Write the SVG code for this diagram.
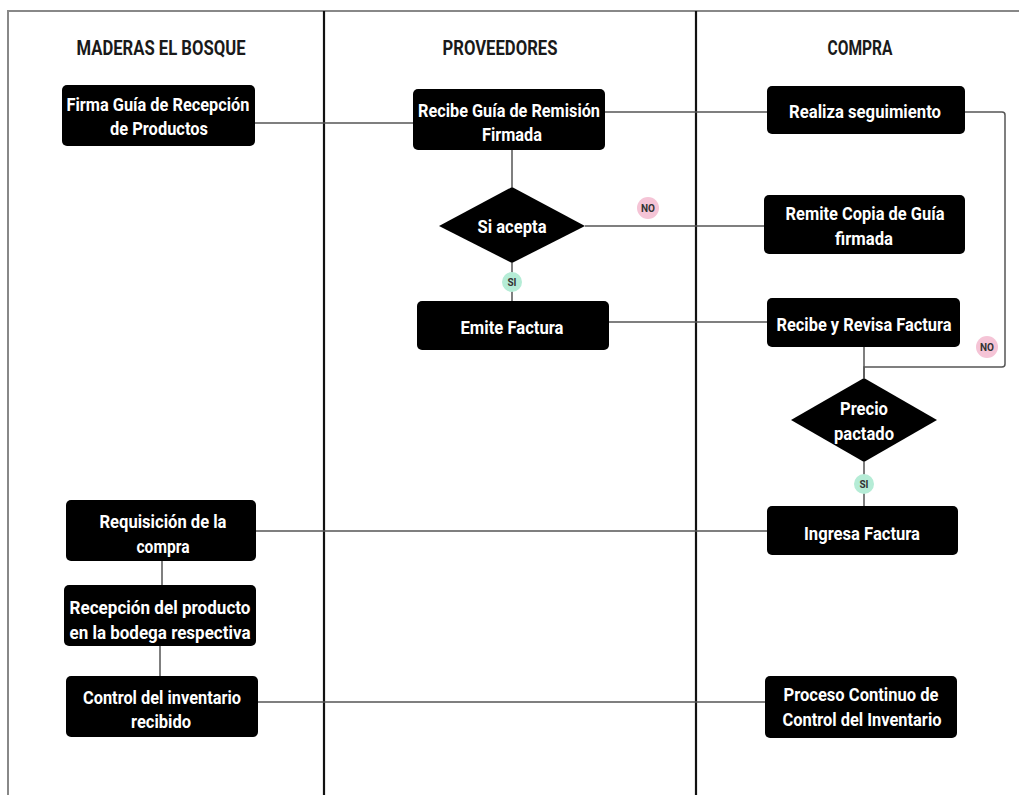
<svg xmlns="http://www.w3.org/2000/svg" width="1019" height="795" viewBox="0 0 1019 795">
<style>
.box{fill:#000;}
.t{font-family:Roboto,"Liberation Sans",sans-serif;font-weight:bold;font-size:19px;fill:#fff;text-anchor:middle;}
.h{font-family:Roboto,"Liberation Sans",sans-serif;font-weight:bold;font-size:21px;fill:#1a1a1a;text-anchor:middle;}
.c{fill:none;stroke:#555;stroke-width:1.5;}
.lane{stroke:#111;stroke-width:2.2;}
.frame{stroke:#888;stroke-width:2;fill:none;}
.no{fill:#f5c4d6;}
.si{fill:#b5ecd6;}
.lbl{font-family:Roboto,"Liberation Sans",sans-serif;font-weight:bold;font-size:10px;fill:#333;text-anchor:middle;}
</style>
<rect x="0" y="0" width="1019" height="795" fill="#fff"/>
<g id="lanes">
<path class="frame" d="M8,795 V11 H1019"/>
<line class="lane" x1="324" y1="11" x2="324" y2="795"/>
<line class="lane" x1="696" y1="11" x2="696" y2="795"/>
<text class="h" x="161" y="55" textLength="169" lengthAdjust="spacingAndGlyphs">MADERAS EL BOSQUE</text>
<text class="h" x="500" y="55" textLength="115" lengthAdjust="spacingAndGlyphs">PROVEEDORES</text>
<text class="h" x="860" y="55" textLength="65" lengthAdjust="spacingAndGlyphs">COMPRA</text>
</g>
<g id="connectors">
<path class="c" d="M255,123 H413"/>
<path class="c" d="M605,112 H767"/>
<path class="c" d="M512,150 V187"/>
<path class="c" d="M585,226 H764"/>
<path class="c" d="M512,263 V301"/>
<path class="c" d="M609,322 H767"/>
<path class="c" d="M965,112 H1002 Q1005,112 1005,115 V364 Q1005,367 1002,367 H864 V378"/>
<path class="c" d="M864,347 V378"/>
<path class="c" d="M864,462 V506"/>
<path class="c" d="M256,531 H767"/>
<path class="c" d="M162,561 V585"/>
<path class="c" d="M160,646 V676"/>
<path class="c" d="M258,702 H765"/>
<circle class="no" cx="648" cy="208" r="11"/>
<text class="lbl" x="648" y="212">NO</text>
<circle class="si" cx="512" cy="282" r="10"/>
<text class="lbl" x="512" y="286">SI</text>
<circle class="no" cx="987" cy="347" r="11"/>
<text class="lbl" x="987" y="351">NO</text>
<circle class="si" cx="864" cy="484" r="10"/>
<text class="lbl" x="864" y="488">SI</text>
</g>
<g id="n1">
<rect class="box" x="62" y="85" width="193" height="61" rx="5"/>
<text class="t" x="158" y="111" textLength="183" lengthAdjust="spacingAndGlyphs">Firma Guía de Recepción</text>
<text class="t" x="159" y="135" textLength="98" lengthAdjust="spacingAndGlyphs">de Productos</text>
</g>
<g id="n2">
<rect class="box" x="413" y="89" width="192" height="61" rx="5"/>
<text class="t" x="509" y="117" textLength="182" lengthAdjust="spacingAndGlyphs">Recibe Guía de Remisión</text>
<text class="t" x="512" y="141" textLength="60" lengthAdjust="spacingAndGlyphs">Firmada</text>
</g>
<g id="n3">
<rect class="box" x="767" y="86" width="198" height="48" rx="5"/>
<text class="t" x="865" y="118" textLength="152" lengthAdjust="spacingAndGlyphs">Realiza seguimiento</text>
</g>
<g id="n4">
<polygon class="box" points="512,187 585,226 512,263 439,226"/>
<text class="t" x="512" y="233" textLength="69" lengthAdjust="spacingAndGlyphs">Si acepta</text>
</g>
<g id="n5">
<rect class="box" x="764" y="195" width="201" height="59" rx="5"/>
<text class="t" x="865" y="220" textLength="159" lengthAdjust="spacingAndGlyphs">Remite Copia de Guía</text>
<text class="t" x="864" y="245" textLength="58" lengthAdjust="spacingAndGlyphs">firmada</text>
</g>
<g id="n6">
<rect class="box" x="417" y="301" width="192" height="49" rx="5"/>
<text class="t" x="512" y="334" textLength="103" lengthAdjust="spacingAndGlyphs">Emite Factura</text>
</g>
<g id="n7">
<rect class="box" x="767" y="298" width="193" height="49" rx="5"/>
<text class="t" x="864" y="331" textLength="175" lengthAdjust="spacingAndGlyphs">Recibe y Revisa Factura</text>
</g>
<g id="n8">
<polygon class="box" points="864,378 937,420 864,462 791,420"/>
<text class="t" x="864" y="415" textLength="48" lengthAdjust="spacingAndGlyphs">Precio</text>
<text class="t" x="864" y="440" textLength="60" lengthAdjust="spacingAndGlyphs">pactado</text>
</g>
<g id="n9">
<rect class="box" x="767" y="506" width="191" height="49" rx="5"/>
<text class="t" x="862" y="540" textLength="116" lengthAdjust="spacingAndGlyphs">Ingresa Factura</text>
</g>
<g id="n10">
<rect class="box" x="66" y="500" width="190" height="61" rx="5"/>
<text class="t" x="163" y="528" textLength="127" lengthAdjust="spacingAndGlyphs">Requisición de la</text>
<text class="t" x="163" y="553" textLength="53" lengthAdjust="spacingAndGlyphs">compra</text>
</g>
<g id="n11">
<rect class="box" x="64" y="585" width="192" height="61" rx="5"/>
<text class="t" x="160" y="614" textLength="181" lengthAdjust="spacingAndGlyphs">Recepción del producto</text>
<text class="t" x="160" y="639" textLength="181" lengthAdjust="spacingAndGlyphs">en la bodega respectiva</text>
</g>
<g id="n12">
<rect class="box" x="66" y="676" width="192" height="61" rx="5"/>
<text class="t" x="162" y="704" textLength="158" lengthAdjust="spacingAndGlyphs">Control del inventario</text>
<text class="t" x="161" y="728" textLength="60" lengthAdjust="spacingAndGlyphs">recibido</text>
</g>
<g id="n13">
<rect class="box" x="765" y="676" width="192" height="62" rx="5"/>
<text class="t" x="861" y="701" textLength="155" lengthAdjust="spacingAndGlyphs">Proceso Continuo de</text>
<text class="t" x="862" y="726" textLength="159" lengthAdjust="spacingAndGlyphs">Control del Inventario</text>
</g>
</svg>
